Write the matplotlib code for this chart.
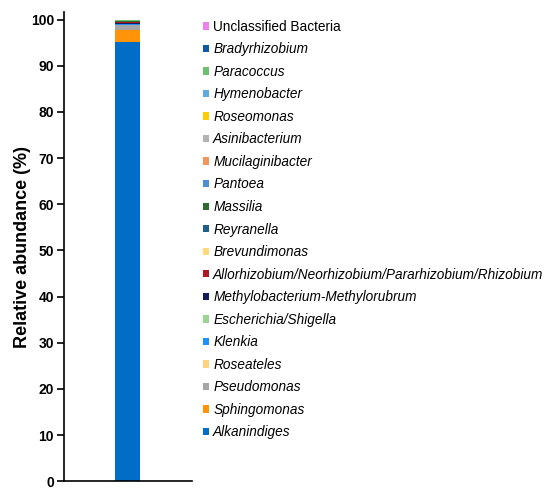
import matplotlib

matplotlib.use("Agg")
import matplotlib.pyplot as plt
from matplotlib.patches import Patch

plt.rcParams["font.family"] = ["Liberation Sans", "DejaVu Sans"]

# stacked from bottom to top
taxa = [
    "Alkanindiges", "Sphingomonas", "Pseudomonas", "Roseateles", "Klenkia",
    "Escherichia/Shigella", "Methylobacterium-Methylorubrum",
    "Allorhizobium/Neorhizobium/Pararhizobium/Rhizobium", "Brevundimonas",
    "Reyranella", "Massilia", "Pantoea", "Mucilaginibacter", "Asinibacterium",
    "Roseomonas", "Hymenobacter", "Paracoccus", "Bradyrhizobium",
    "Unclassified Bacteria",
]
abundance = [
    95.2, 2.6, 1.0, 0.12, 0.10,
    0.08, 0.25,
    0.05, 0.05,
    0.08, 0.10, 0.05, 0.03, 0.05,
    0.02, 0.02, 0.03, 0.02,
    0.15,
]
colors = [
    "#006dc6", "#ff9408", "#a6a6a6", "#ffd27f", "#1e90ff",
    "#98d68f", "#141a5e",
    "#b0171f", "#ffd97a",
    "#1f5f8b", "#2e6b2e", "#4a90d9", "#f4935a", "#b3b3b3",
    "#ffcc00", "#5dade2", "#6cc26c", "#0a5aa8",
    "#f07ff0",
]
yticks = [0, 10, 20, 30, 40, 50, 60, 70, 80, 90, 100]

fig = plt.figure(figsize=(5.5, 4.94), dpi=100)
ax = fig.add_axes([0.116, 0.026, 0.233, 0.950])

bottom = 0.0
for name, val, col in zip(taxa, abundance, colors):
    ax.bar(0, val, bottom=bottom, width=0.39, color=col, linewidth=0)
    bottom += val

ax.set_xlim(-1, 1)
ax.set_ylim(0, 101.7)
ax.set_xticks([])
ax.set_yticks(yticks)
ax.set_yticklabels([str(t) for t in yticks], fontsize=10, fontweight="bold")
ax.tick_params(axis="y", direction="out", length=5, width=1.2, pad=2)
ax.set_ylabel("Relative abundance (%)", fontsize=13, fontweight="bold", labelpad=0)
for side in ("top", "right"):
    ax.spines[side].set_visible(False)
for side in ("left", "bottom"):
    ax.spines[side].set_linewidth(1.2)

handles = [Patch(facecolor=c, edgecolor="none") for c in colors[::-1]]
leg = fig.legend(handles, taxa[::-1], loc="upper left",
                 bbox_to_anchor=(0.369, 0.960), frameon=False, fontsize=9.8,
                 handlelength=0.45, handleheight=0.45, handletextpad=0.3,
                 labelspacing=0.627, borderpad=0, borderaxespad=0)
for txt in leg.get_texts():
    if txt.get_text() != "Unclassified Bacteria":
        txt.set_fontstyle("italic")

fig.savefig("out.png", dpi=100)
